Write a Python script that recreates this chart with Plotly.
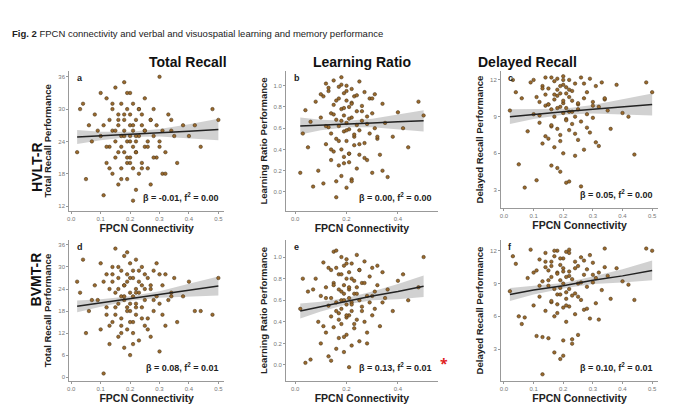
import plotly.graph_objects as go

# FPCN connectivity (same subjects across panels)
conn = [0.02, 0.04, 0.05, 0.06, 0.08, 0.09, 0.10, 0.10, 0.11, 0.12, 0.12, 0.13, 0.13, 0.14, 0.14, 0.14,
        0.15, 0.15, 0.15, 0.16, 0.16, 0.16, 0.17, 0.17, 0.17, 0.17, 0.18, 0.18, 0.18, 0.18, 0.19, 0.19,
        0.19, 0.19, 0.20, 0.20, 0.20, 0.20, 0.20, 0.21, 0.21, 0.21, 0.21, 0.22, 0.22, 0.22, 0.22, 0.23,
        0.23, 0.23, 0.24, 0.24, 0.24, 0.25, 0.25, 0.25, 0.26, 0.26, 0.27, 0.27, 0.28, 0.28, 0.29, 0.29,
        0.30, 0.30, 0.31, 0.31, 0.32, 0.33, 0.34, 0.35, 0.36, 0.38, 0.40, 0.44, 0.48, 0.50,
        0.03, 0.07, 0.11, 0.12, 0.13, 0.14, 0.15, 0.16, 0.16, 0.17, 0.18, 0.18, 0.19, 0.19, 0.20, 0.20,
        0.21, 0.21, 0.22, 0.22, 0.23, 0.24, 0.25, 0.26, 0.27, 0.28, 0.30, 0.32, 0.34, 0.42]

hvlt_total = [22, 31, 17, 27, 29, 26, 25, 33, 14, 32, 20, 28, 23, 30, 18, 26, 34, 24, 21, 29, 16, 27, 31, 19, 25, 23,
              28, 22, 35, 26, 20, 30, 24, 17, 29, 25, 21, 33, 27, 19, 23, 31, 26, 15, 28, 24, 22, 30, 18, 25, 27, 20,
              29, 23, 26, 32, 19, 24, 28, 16, 25, 30, 21, 27, 23, 36, 18, 26, 22, 29, 28, 25, 20, 27, 25, 23, 30, 28,
              30, 24, 27, 23, 19, 31, 26, 22, 28, 17, 25, 29, 21, 33, 24, 20, 27, 13, 25, 22, 30, 19, 26, 23, 28, 21,
              24, 18, 26, 27]
hvlt_ratio = [0.18, 0.77, 0.42, 0.66, 0.85, 0.20, 0.70, 0.92, 0.08, 1.02, 0.45, 0.61, 0.95, 0.30, 0.74, 0.55, 1.05,
              0.38, 0.82, 0.10, 0.68, 0.50, 0.99, 0.25, 0.88, 0.62, 0.40, 0.78, 1.08, 0.15, 0.57, 0.93, 0.33, 0.72,
              0.04, 0.65, 0.86, 0.48, 1.00, 0.28, 0.80, 0.59, 0.36, 0.97, 0.70, 0.12, 0.84, 0.52, 0.90, 0.44, 0.63,
              0.76, 0.22, 1.04, 0.58, 0.35, 0.81, 0.67, 0.46, 0.94, 0.71, 0.30, 0.88, 0.55, 0.18, 0.74, 0.60, 0.92,
              0.50, 0.35, 0.83, 0.65, 0.14, 0.52, 0.75, 0.42, 0.85, 0.72,
              0.55, 0.05, 0.90, 0.62, 0.98, 0.40, 0.73, -0.05, 0.86, 0.48, 0.67, 1.01, 0.27, 0.79, 0.58, 0.95, 0.36,
              0.69, 0.10, 0.83, 0.54, 0.91, 0.45, 0.76, 0.32, 0.64, 0.88, 0.52, 0.20, 0.60]
hvlt_delayed = [9.5, 11.0, 5.1, 10.5, 7.8, 11.8, 9.2, 12.0, 3.8, 10.2, 8.5, 11.5, 6.8, 10.8, 9.9, 12.2, 7.2, 10.0, 11.3,
                5.0, 9.6, 8.2, 11.9, 10.4, 6.5, 9.0, 12.1, 10.7, 8.0, 11.2, 4.5, 9.8, 10.9, 7.5, 12.3, 9.3, 11.6, 6.0,
                10.1, 8.8, 11.4, 9.7, 3.6, 10.6, 12.0, 7.9, 9.4, 11.1, 8.4, 10.3, 5.8, 9.0, 11.7, 10.0, 7.1, 9.6, 12.2,
                8.6, 10.5, 6.3, 11.0, 9.2, 12.1, 7.7, 10.2, 8.9, 11.5, 6.9, 9.8, 11.8, 10.4, 9.5, 8.0, 11.6, 9.3, 5.9,
                11.8, 11.0,
                12.0, 3.2, 10.6, 9.1, 11.3, 7.4, 10.0, 12.2, 8.3, 10.8, 4.8, 9.7, 11.5, 7.0, 10.3, 12.0, 8.7, 10.9, 3.7,
                11.2, 9.4, 7.6, 10.1, 3.3, 11.7, 8.1, 9.9, 6.6, 10.5, 9.0]
bvmt_total = [26, 32, 12, 18, 25, 21, 13, 31, 1, 28, 17, 24, 9, 26, 15, 30, 19, 23, 35, 11, 27, 20, 14, 29, 22, 16, 33,
              25, 8, 21, 28, 13, 26, 19, 31, 23, 6, 18, 27, 15, 22, 29, 12, 24, 20, 32, 17, 26, 10, 23, 30, 19, 25, 14,
              28, 21, 16, 27, 11, 24, 29, 18, 22, 31, 20, 7, 25, 17, 28, 21, 23, 27, 15, 22, 26, 18, 17, 27,
              23, 21, 26, 19, 14, 28, 17, 24, 30, 12, 22, 25, 18, 34, 20, 15, 27, 9, 23, 19, 29, 16, 24, 13, 25, 21,
              28, 14, 22, 18]
bvmt_ratio = [0.52, 0.02, 0.68, 0.05, 0.80, 0.40, 0.64, 0.20, 0.95, 0.30, 0.72, 0.55, 0.08, 0.88, 0.45, 0.62, 1.05,
              0.35, 0.76, 0.15, 0.58, 0.90, 0.48, 0.70, 0.25, 0.84, 0.60, 0.38, 1.00, 0.52, 0.74, 0.12, 0.66, 0.92,
              0.44, 0.56, 0.80, 0.28, 0.98, 0.62, 0.46, 0.86, 0.70, 0.18, 0.58, 0.94, 0.50, 0.78, 0.34, 0.66, 1.02,
              0.42, 0.72, 0.60, 0.22, 0.88, 0.54, 0.76, 0.40, 0.96, 0.64, 0.30, 0.82, 0.58, 0.46, 0.90, 0.68, 0.52,
              0.74, 0.36, 0.86, 0.62, 0.70, 0.50, 0.78, 0.60, 0.72, 1.00,
              0.80, 0.70, 0.36, 0.62, 0.90, 0.04, 0.74, 0.50, 1.06, 0.42, 0.68, 0.84, 0.26, 0.60, 0.94, 0.46, 0.72,
              -0.02, 0.56, 0.80, 0.38, 0.66, 0.88, 0.50, 0.76, 0.20, 0.64, 0.92, 0.58, 0.84]
bvmt_delayed = [8.3, 10.8, 6.0, 5.3, 9.5, 12.1, 7.0, 10.0, 4.2, 11.2, 7.8, 9.2, 0.7, 10.5, 6.5, 11.8, 8.8, 4.0, 10.2,
                7.3, 11.0, 9.6, 2.7, 8.5, 11.5, 6.0, 10.0, 8.0, 12.0, 7.1, 9.3, 2.1, 10.7, 8.6, 6.8, 11.3, 9.0, 3.8,
                10.4, 7.6, 11.9, 8.2, 5.5, 9.7, 12.1, 6.9, 10.1, 7.9, 3.5, 9.4, 11.0, 8.1, 6.2, 10.6, 9.0, 4.3, 11.4,
                7.5, 9.8, 6.6, 10.3, 8.7, 11.6, 5.8, 9.1, 10.9, 7.2, 9.5, 10.0, 8.4, 12.2, 9.7, 7.6, 10.4, 9.2, 7.5,
                12.2, 12.0,
                11.5, 5.9, 10.2, 8.8, 4.1, 11.0, 9.3, 7.4, 10.6, 12.0, 6.3, 9.9, 8.0, 11.3, 2.4, 10.1, 7.0, 9.6, 11.8,
                8.5, 3.9, 10.4, 7.8, 9.1, 11.1, 6.7, 9.8, 5.7, 10.5, 8.9]

# fitted line at band x positions, with CI half widths
band_x = [0.02, 0.1, 0.2, 0.3, 0.4, 0.5]
fit_y = {
    'a': [24.8, 25.0, 25.3, 25.6, 25.9, 26.2],
    'b': [0.62, 0.63, 0.64, 0.65, 0.66, 0.67],
    'c': [9.0, 9.2, 9.4, 9.6, 9.8, 10.0],
    'd': [19.3, 20.2, 21.4, 22.5, 23.7, 24.8],
    'e': [0.50, 0.54, 0.59, 0.64, 0.68, 0.73],
    'f': [8.0, 8.4, 8.8, 9.3, 9.7, 10.2],
}
ci_half = {
    'a': [1.3, 0.8, 0.5, 0.7, 1.3, 2.0],
    'b': [0.08, 0.05, 0.03, 0.04, 0.07, 0.10],
    'c': [0.6, 0.4, 0.25, 0.35, 0.6, 0.9],
    'd': [1.6, 1.0, 0.6, 0.9, 1.7, 2.6],
    'e': [0.07, 0.045, 0.03, 0.04, 0.07, 0.10],
    'f': [0.6, 0.4, 0.25, 0.35, 0.6, 0.9],
}
stats = {
    'a': 'β = -0.01, f<sup>2</sup> = 0.00', 'b': 'β = 0.00, f<sup>2</sup> = 0.00',
    'c': 'β = 0.05, f<sup>2</sup> = 0.00', 'd': 'β = 0.08, f<sup>2</sup> = 0.01',
    'e': 'β = 0.13, f<sup>2</sup> = 0.01', 'f': 'β = 0.10, f<sup>2</sup> = 0.01',
}

col_titles = ['Total Recall', 'Learning Ratio', 'Delayed Recall']
row_titles = ['HVLT-R', 'BVMT-R']
y_titles = ['Total Recall Performance', 'Learning Ratio Performance', 'Delayed Recall Performance']

panels = [
    # letter, y data, x domain, y domain, x range, y range, x ticks, y ticks
    ('a', hvlt_total, [0.090, 0.318], [0.506, 0.847], [-0.007, 0.52], [11.07, 37.1],
     [0, 0.1, 0.2, 0.3, 0.4, 0.5], [12, 18, 24, 30, 36]),
    ('b', hvlt_ratio, [0.409, 0.632], [0.506, 0.847], [-0.035, 0.555], [-0.18, 1.14],
     [0, 0.2, 0.4], [0, 0.2, 0.4, 0.6, 0.8, 1.0]),
    ('c', hvlt_delayed, [0.725, 0.956], [0.513, 0.847], [-0.01, 0.52], [1.52, 12.74],
     [0, 0.1, 0.2, 0.3, 0.4, 0.5], [3, 6, 9, 12]),
    ('d', bvmt_total, [0.090, 0.318], [0.092, 0.436], [-0.007, 0.52], [-1.1, 37.4],
     [0, 0.1, 0.2, 0.3, 0.4, 0.5], [0, 6, 12, 18, 24, 30, 36]),
    ('e', bvmt_ratio, [0.409, 0.632], [0.092, 0.436], [-0.035, 0.555], [-0.15, 1.16],
     [0, 0.2, 0.4], [0, 0.2, 0.4, 0.6, 0.8, 1.0]),
    ('f', bvmt_delayed, [0.725, 0.956], [0.092, 0.436], [-0.01, 0.52], [0.07, 13.0],
     [0, 0.1, 0.2, 0.3, 0.4, 0.5], [3, 6, 9, 12]),
]

fig = go.Figure()
annotations = []
layout_axes = {}

for i, (letter, ys, xdom, ydom, xr, yr, xt, yt) in enumerate(panels):
    n = i + 1
    xa = 'x' if n == 1 else 'x%d' % n
    ya = 'y' if n == 1 else 'y%d' % n
    m = min(len(conn), len(ys))
    lo = [f - c for f, c in zip(fit_y[letter], ci_half[letter])]
    hi = [f + c for f, c in zip(fit_y[letter], ci_half[letter])]
    fig.add_trace(go.Scatter(x=band_x + band_x[::-1], y=hi + lo[::-1], fill='toself',
                             fillcolor='rgba(190,190,190,0.7)', line=dict(width=0),
                             mode='lines', hoverinfo='skip', xaxis=xa, yaxis=ya, showlegend=False))
    fig.add_trace(go.Scatter(x=conn[:m], y=ys[:m], mode='markers', xaxis=xa, yaxis=ya, showlegend=False,
                             marker=dict(size=3.5, color='#9a6a2e', line=dict(width=0.5, color='#3d2a10'))))
    fig.add_trace(go.Scatter(x=band_x, y=fit_y[letter], mode='lines', xaxis=xa, yaxis=ya, showlegend=False,
                             line=dict(color='#222222', width=1.5)))
    layout_axes['xaxis' if n == 1 else 'xaxis%d' % n] = dict(
        domain=xdom, range=xr, anchor=ya, tickvals=xt, tickformat='.1f', automargin=False,
        showline=True, linecolor='#999999', linewidth=1, ticks='outside', ticklen=2, tickcolor='#999999',
        showgrid=False, zeroline=False, tickfont=dict(size=6, color='#777777', family='Liberation Sans'),
        title=dict(text='<b>FPCN Connectivity</b>', standoff=2,
                   font=dict(size=10.5, color='#222222', family='Liberation Sans')))
    layout_axes['yaxis' if n == 1 else 'yaxis%d' % n] = dict(
        domain=ydom, range=yr, anchor=xa, tickvals=yt, automargin=False,
        tickformat='.1f' if letter in 'be' else 'd',
        showline=True, linecolor='#999999', linewidth=1, ticks='outside', ticklen=2, tickcolor='#999999',
        showgrid=False, zeroline=False, tickfont=dict(size=6, color='#777777', family='Liberation Sans'),
        title=dict(text='<b>%s</b>' % y_titles[i % 3], standoff=4,
                   font=dict(size=9.5, color='#222222', family='Liberation Sans')))
    annotations.append(dict(x=xdom[0] + 0.008, y=ydom[1], xref='paper', yref='paper', text='<b>%s</b>' % letter,
                            showarrow=False, xanchor='left', yanchor='top',
                            font=dict(size=9, color='#222222', family='Liberation Sans')))
    annotations.append(dict(x=xdom[1] - 0.005, y=ydom[0] + 0.015, xref='paper', yref='paper',
                            text='<b>%s</b>' % stats[letter], showarrow=False, xanchor='right', yanchor='bottom',
                            font=dict(size=9, color='#222222', family='Liberation Sans')))

# red asterisk for significant effect in panel e
annotations.append(dict(x=0.632, y=0.135, xref='paper', yref='paper', text='<b>*</b>', showarrow=False,
                        xanchor='left', yanchor='middle', font=dict(size=14, color='#e02020')))

for j, t in enumerate(col_titles):
    xc = [0.204, 0.520, 0.840][j]
    annotations.append(dict(x=xc, y=1 - 44 / 411, xref='paper', yref='paper', text='<b>%s</b>' % t,
                            showarrow=False, font=dict(size=14, color='#111111', family='Liberation Sans')))
for j, t in enumerate(row_titles):
    yc = [0.68, 0.27][j]
    annotations.append(dict(x=0.027, y=yc, xref='paper', yref='paper', text='<b>%s</b>' % t, textangle=-90,
                            showarrow=False, font=dict(size=14, color='#111111', family='Liberation Sans')))

annotations.append(dict(x=0.003, y=1 - 18 / 411, xref='paper', yref='paper', xanchor='left',
                        text='<b>Fig. 2</b> FPCN connectivity and verbal and visuospatial learning and memory performance',
                        showarrow=False, font=dict(size=9.5, color='#222222', family='Liberation Sans')))

fig.update_layout(width=680, height=411, margin=dict(l=0, r=0, t=0, b=0),
                  plot_bgcolor='white', paper_bgcolor='white', annotations=annotations, **layout_axes)

fig.write_html("out.html")
